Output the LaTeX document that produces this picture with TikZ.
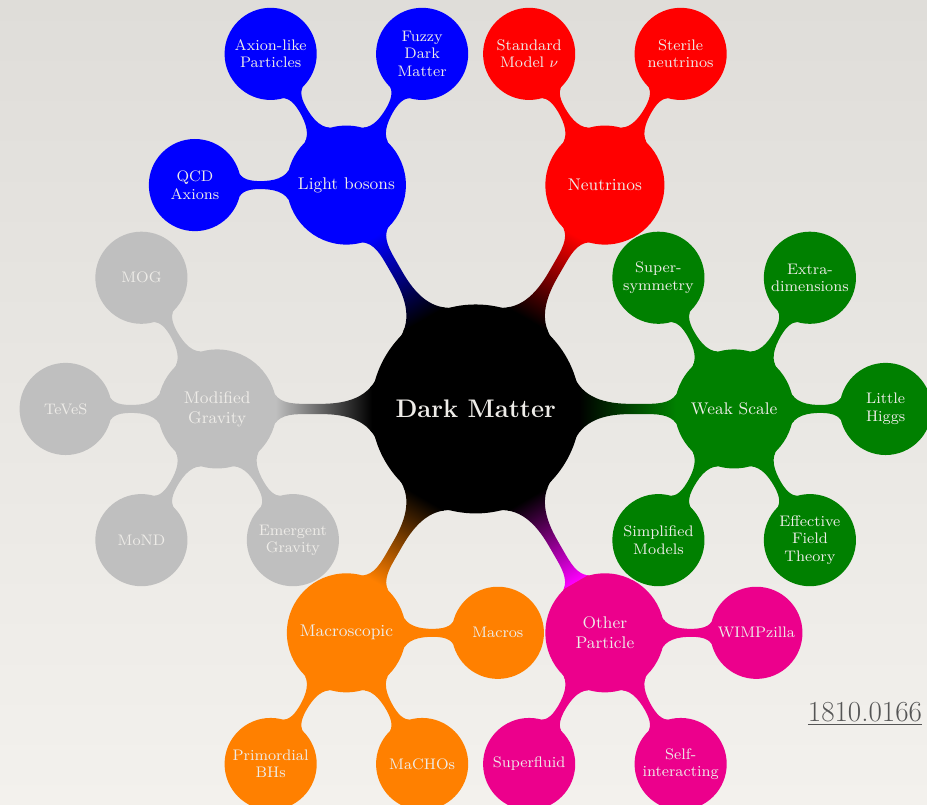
\documentclass[tikz,border=0pt]{standalone}
\usetikzlibrary{mindmap}

\definecolor{paperTop}{RGB}{223,221,217}
\definecolor{paperBottom}{RGB}{243,241,237}
\definecolor{concepttext}{RGB}{238,236,232}
\definecolor{dmgreen}{RGB}{0,128,0}
\definecolor{dmorange}{RGB}{255,128,0}
\definecolor{dmgray}{RGB}{191,191,191}
\definecolor{dmpink}{RGB}{236,0,140}
\definecolor{linkgray}{RGB}{85,85,85}

% bar between two concepts, fading from one colour into the other
\def\conceptlink#1#2#3#4{\path (#1) to[circle connection bar switch color=from (#3) to (#4)] (#2);}

\tikzset{
	dmroot/.style={concept, minimum size=4cm, text width={}, align=center,
		font=\bfseries\fontsize{14}{16}\selectfont},
	dmclass/.style={concept, minimum size=2.26cm, text width={}, align=center,
		font=\fontsize{9.3}{11}\selectfont},
	dmmodel/.style={concept, minimum size=1.74cm, text width={}, align=center,
		font=\fontsize{8.4}{9.6}\selectfont},
}

\begin{document}
\begin{tikzpicture}
	\useasboundingbox (-9.2,-7.66) rectangle (8.73,7.91);
	\shade[top color=paperTop, bottom color=paperBottom] (-9.2,-7.66) rectangle (8.73,7.91);

	\begin{scope}[mindmap, text=concepttext]
		\node[concept color=black, dmroot, text=concepttext] (dm) at (0,0) {Dark Matter};

		% classes
		\path (dm.center) ++(0:5) node[concept color=dmgreen, dmclass, text=concepttext] (weak) {Weak Scale};
		\path (dm.center) ++(60:5) node[concept color=red, dmclass, text=concepttext] (nu) {Neutrinos};
		\path (dm.center) ++(120:5) node[concept color=blue, dmclass, text=concepttext] (light) {Light bosons};
		\path (dm.center) ++(180:5) node[concept color=dmgray, dmclass, text=concepttext] (modgrav) {Modified\\Gravity};
		\path (dm.center) ++(240:5) node[concept color=dmorange, dmclass, text=concepttext] (macro) {Macroscopic};
		\path (dm.center) ++(300:5) node[concept color=dmpink, dmclass, text=concepttext] (other) {Other\\Particle};

		% weak scale models
		\path (weak.center) ++(120:2.93) node[concept color=dmgreen, dmmodel, text=concepttext] (susy) {Super-\\symmetry};
		\path (weak.center) ++(60:2.93) node[concept color=dmgreen, dmmodel, text=concepttext] (extra) {Extra-\\dimensions};
		\path (weak.center) ++(0:2.93) node[concept color=dmgreen, dmmodel, text=concepttext] (higgs) {Little\\Higgs};
		\path (weak.center) ++(-60:2.93) node[concept color=dmgreen, dmmodel, text=concepttext] (eft) {Effective\\Field\\Theory};
		\path (weak.center) ++(-120:2.93) node[concept color=dmgreen, dmmodel, text=concepttext] (simp) {Simplified\\Models};

		% neutrinos
		\path (nu.center) ++(120:2.93) node[concept color=red, dmmodel, text=concepttext] (smnu) {Standard\\Model $\nu$};
		\path (nu.center) ++(60:2.93) node[concept color=red, dmmodel, text=concepttext] (sterile) {Sterile\\neutrinos};

		% light bosons
		\path (light.center) ++(120:2.93) node[concept color=blue, dmmodel, text=concepttext] (alp) {Axion-like\\Particles};
		\path (light.center) ++(60:2.93) node[concept color=blue, dmmodel, text=concepttext] (fuzzy) {Fuzzy\\Dark\\Matter};
		\path (light.center) ++(180:2.93) node[concept color=blue, dmmodel, text=concepttext] (qcd) {QCD\\Axions};

		% modified gravity
		\path (modgrav.center) ++(120:2.93) node[concept color=dmgray, dmmodel, text=concepttext] (mog) {MOG};
		\path (modgrav.center) ++(180:2.93) node[concept color=dmgray, dmmodel, text=concepttext] (teves) {TeVeS};
		\path (modgrav.center) ++(240:2.93) node[concept color=dmgray, dmmodel, text=concepttext] (mond) {MoND};
		\path (modgrav.center) ++(300:2.93) node[concept color=dmgray, dmmodel, text=concepttext] (emerg) {Emergent\\Gravity};

		% macroscopic
		\path (macro.center) ++(0:2.93) node[concept color=dmorange, dmmodel, text=concepttext] (macros) {Macros};
		\path (macro.center) ++(240:2.93) node[concept color=dmorange, dmmodel, text=concepttext] (pbh) {Primordial\\BHs};
		\path (macro.center) ++(300:2.93) node[concept color=dmorange, dmmodel, text=concepttext] (macho) {MaCHOs};

		% other particles
		\path (other.center) ++(0:2.93) node[concept color=dmpink, dmmodel, text=concepttext] (wimpz) {WIMPzilla};
		\path (other.center) ++(240:2.93) node[concept color=dmpink, dmmodel, text=concepttext] (sfluid) {Superfluid};
		\path (other.center) ++(300:2.93) node[concept color=dmpink, dmmodel, text=concepttext] (sidm) {Self-\\interacting};

		\conceptlink{dm}{weak}{black}{dmgreen}
		\conceptlink{dm}{nu}{black}{red}
		\conceptlink{dm}{light}{black}{blue}
		\conceptlink{dm}{modgrav}{black}{dmgray}
		\conceptlink{dm}{macro}{black}{dmorange}
		\conceptlink{dm}{other}{black}{magenta}

		\conceptlink{weak}{susy}{dmgreen}{dmgreen}
		\conceptlink{weak}{extra}{dmgreen}{dmgreen}
		\conceptlink{weak}{higgs}{dmgreen}{dmgreen}
		\conceptlink{weak}{eft}{dmgreen}{dmgreen}
		\conceptlink{weak}{simp}{dmgreen}{dmgreen}
		\conceptlink{nu}{smnu}{red}{red}
		\conceptlink{nu}{sterile}{red}{red}
		\conceptlink{light}{alp}{blue}{blue}
		\conceptlink{light}{fuzzy}{blue}{blue}
		\conceptlink{light}{qcd}{blue}{blue}
		\conceptlink{modgrav}{mog}{dmgray}{dmgray}
		\conceptlink{modgrav}{teves}{dmgray}{dmgray}
		\conceptlink{modgrav}{mond}{dmgray}{dmgray}
		\conceptlink{modgrav}{emerg}{dmgray}{dmgray}
		\conceptlink{macro}{macros}{dmorange}{dmorange}
		\conceptlink{macro}{pbh}{dmorange}{dmorange}
		\conceptlink{macro}{macho}{dmorange}{dmorange}
		\conceptlink{other}{wimpz}{dmpink}{dmpink}
		\conceptlink{other}{sfluid}{dmpink}{dmpink}
		\conceptlink{other}{sidm}{dmpink}{dmpink}
	\end{scope}

	\node[anchor=base west, inner sep=0pt, text=linkgray, font=\fontsize{16}{18}\selectfont] (arxiv) at (6.42,-6.05) {\underline{1810.0166}};
\end{tikzpicture}
\end{document}
